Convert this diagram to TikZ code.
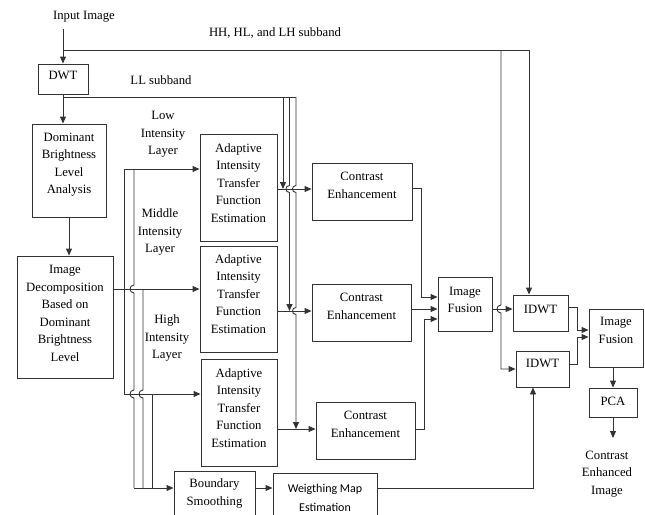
\documentclass[tikz,border=0pt]{standalone}
\usepackage{fontspec}
\setmainfont{Liberation Serif}
\newfontfamily\carl{Carlito}
\usetikzlibrary{arrows.meta,calc}
\begin{document}
\begin{tikzpicture}[x=1pt,y=-1pt,
  lbl/.style={font=\fontsize{12.7}{17.5}\selectfont, align=center, inner sep=0pt, text=black},
  sanslbl/.style={font=\carl\fontsize{12}{19}\selectfont, align=center, inner sep=0pt, text=black},
  box/.style={draw=black!80, line width=0.9pt, rectangle, inner sep=0pt},
  conn/.style={draw=black!80, line width=0.9pt},
  arr/.style={conn, -{Triangle[length=7pt,width=6pt]}},
]
\useasboundingbox (0,0) rectangle (645,514);
\clip (0,0) rectangle (645,514);

% ---------- free texts ----------
\node[lbl] (inimg) at (84,17) {Input Image};
\node[lbl] (hh) at (275,33) {HH, HL, and LH subband};
\node[lbl] (ll) at (161,80) {LL subband};
\node[lbl] (low) at (163,134.5) {Low\\Intensity\\Layer};
\node[lbl] (mid) at (160,232) {Middle\\Intensity\\Layer};
\node[lbl] (high) at (167,338) {High\\Intensity\\Layer};
\node[lbl] (out) at (607,474) {Contrast\\Enhanced\\Image};

% ---------- boxes ----------
\node[box, minimum width=50pt, minimum height=30pt,
  label={[lbl,yshift=4pt]center:DWT}] (dwt) at (63,79) {};
\node[box, minimum width=74pt, minimum height=93pt,
  label={[lbl,yshift=6pt]center:{Dominant\\Brightness\\Level\\Analysis}}] (dom) at (69,170.5) {};
\node[box, minimum width=96pt, minimum height=122pt,
  label={[lbl,yshift=3.5pt]center:{Image\\Decomposition\\Based on\\Dominant\\Brightness\\Level}}] (dec) at (65,317) {};
\node[box, minimum width=77pt, minimum height=107pt,
  label={[lbl,yshift=4.5pt]center:{Adaptive\\Intensity\\Transfer\\Function\\Estimation}}] (a1) at (238.5,187.5) {};
\node[box, minimum width=77pt, minimum height=106pt,
  label={[lbl,yshift=5pt]center:{Adaptive\\Intensity\\Transfer\\Function\\Estimation}}] (a2) at (238.5,299) {};
\node[box, minimum width=76pt, minimum height=107pt,
  label={[lbl,yshift=4.5pt]center:{Adaptive\\Intensity\\Transfer\\Function\\Estimation}}] (a3) at (239,412.5) {};
\node[box, minimum width=100pt, minimum height=57pt,
  label={[lbl,yshift=6pt]center:{Contrast\\Enhancement}}] (ce1) at (362,191.5) {};
\node[box, minimum width=99pt, minimum height=57pt,
  label={[lbl,yshift=6pt]center:{Contrast\\Enhancement}}] (ce2) at (361.5,312.5) {};
\node[box, minimum width=99pt, minimum height=57pt,
  label={[lbl,yshift=6pt]center:{Contrast\\Enhancement}}] (ce3) at (365.5,430.5) {};
\node[box, minimum width=54pt, minimum height=54pt,
  label={[lbl,yshift=4pt]center:{Image\\Fusion}}] (f1) at (465,304) {};
\node[box, minimum width=55pt, minimum height=36pt,
  label={[lbl,yshift=4pt]center:IDWT}] (id1) at (540.5,313) {};
\node[box, minimum width=53pt, minimum height=36pt,
  label={[lbl,yshift=6pt]center:IDWT}] (id2) at (542.5,369) {};
\node[box, minimum width=54pt, minimum height=58pt,
  label={[lbl,yshift=7.5pt]center:{Image\\Fusion}}] (f2) at (616,338) {};
\node[box, minimum width=48pt, minimum height=29pt,
  label={[lbl,yshift=1pt]center:PCA}] (pca) at (613,402.5) {};
\node[box, minimum width=81pt, minimum height=50pt,
  label={[lbl,yshift=2.5pt]center:{Boundary\\Smoothing}}] (bs) at (214.5,496) {};
\node[box, minimum width=104pt, minimum height=50pt,
  label={[sanslbl,yshift=0.5pt]center:{Weigthing Map\\Estimation}}] (wme) at (325,498) {};

% ---------- level helpers ----------
\coordinate (r188) at (0,188);
\coordinate (r189) at (0,189);
\coordinate (r289) at (0,289);
\coordinate (r297) at (0,297);
\coordinate (r307) at (0,307);
\coordinate (r309) at (0,309);
\coordinate (r311) at (0,311);
\coordinate (r319) at (0,319);
\coordinate (r330) at (0,330);
\coordinate (r337) at (0,337);
\coordinate (r364) at (0,364);
\coordinate (r429) at (0,429);
\coordinate (r488) at (0,488);

% ---------- input and HH subbands ----------
\coordinate (inS) at (63,29);
\coordinate (hh0) at (63,50);
\coordinate (hhA) at (501,50);
\coordinate (hhB) at (529,50);
\draw[arr] (inS) -- (dwt.north);
\draw[conn] (hh0) -- (hhB);
\draw[arr] (hhB) -- (hhB |- id1.north);
\draw[arr] (hhA) -- (501,305) .. controls (495.7,305) and (495.7,313) .. (501,313)
  -- (hhA |- id2.west) -- (id2.west);

% ---------- DWT / dominant / decomposition ----------
\draw[arr] (dwt.south) -- (dwt.south |- dom.north);
\draw[arr] (dom.south) -- (dom.south |- dec.north);

% ---------- LL subband ----------
\coordinate (ll0) at (63,97);
\coordinate (llA) at (283,97);
\coordinate (llB) at (289.5,97);
\coordinate (llC) at (296,97);
\draw[conn] (ll0) -- (llC);
\draw[arr] (llA) -- (llA |- r189);
\draw[arr] (llB) -- (289.5,185.5) .. controls (284.8,185.5) and (284.8,192.5) .. (289.5,192.5)
  -- (llB |- r311);
\draw[arr] (llC) -- (296,185.5) .. controls (291.3,185.5) and (291.3,192.5) .. (296,192.5)
  -- (296,307.5) .. controls (291.3,307.5) and (291.3,314.5) .. (296,314.5)
  -- (llC |- r429);

% ---------- intensity layers ----------
\coordinate (lA) at (124,169);
\coordinate (lB) at (124,394);
\coordinate (mA) at (134,169);
\coordinate (mB) at (134,488);
\coordinate (nA) at (143,289);
\coordinate (nB) at (143,488);
\coordinate (pA) at (152,394);
\coordinate (pB) at (152,488);
\draw[arr] (dec.east |- r289) -- (a2.west |- r289);
\draw[arr] (lB) -- (lA) -- (a1.west |- lA);
\draw[arr] (lB) -- (a3.west |- lB);
\draw[conn] (mA) -- (134,285) .. controls (128.7,285) and (128.7,293) .. (134,293)
  -- (134,390) .. controls (128.7,390) and (128.7,398) .. (134,398) -- (mB);
\draw[conn] (nA) -- (143,390) .. controls (137.7,390) and (137.7,398) .. (143,398) -- (nB);
\draw[conn] (pA) -- (pB);
\draw[arr] (mB) -- (bs.west |- mB);

% ---------- transfer -> contrast ----------
\draw[arr] (a1.east |- r189) -- (ce1.west |- r189);
\draw[arr] (a2.east |- r311) -- (ce2.west |- r311);
\draw[arr] (a3.east |- r429) -- (ce3.west |- r429);

% ---------- contrast -> fusion ----------
\draw[arr] (ce1.east |- r188) -- (421,188) -- (421,297) -- (f1.west |- r297);
\draw[arr] (ce2.east |- r309) -- (f1.west |- r309);
\draw[arr] (ce3.east |- r429) -- (424,429) -- (424,319) -- (f1.west |- r319);

% ---------- fusion -> IDWT -> fusion -> PCA ----------
\draw[arr] (f1.east |- r309) -- (id1.west |- r309);
\draw[arr] (id1.east |- r307) -- (577,307) -- (577,330) -- (f2.west |- r330);
\draw[arr] (id2.east |- r364) -- (577,364) -- (577,337) -- (f2.west |- r337);
\draw[arr] (f2.south -| pca.north) -- (pca.north);
\coordinate (outA) at (613,438);
\draw[arr] (pca.south) -- (outA);

% ---------- smoothing / weighting ----------
\coordinate (wA) at (533,488);
\draw[arr] (bs.east |- r488) -- (wme.west |- r488);
\draw[arr] (wme.east |- r488) -- (wA) -- (wA |- id2.south);
\end{tikzpicture}
\end{document}
